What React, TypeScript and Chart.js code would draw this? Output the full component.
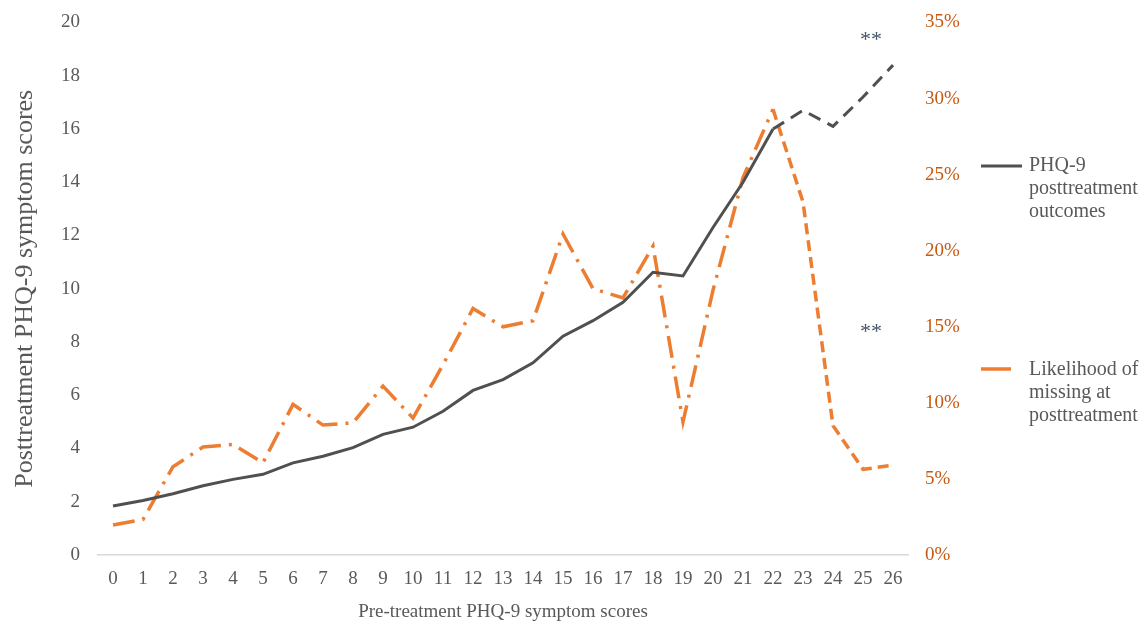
import React, { useEffect, useRef } from "react";
import { Chart, registerables } from "chart.js";

Chart.register(...registerables);

const categories = ["0", "1", "2", "3", "4", "5", "6", "7", "8", "9", "10", "11", "12", "13", "14", "15", "16", "17", "18", "19", "20", "21", "22", "23", "24", "25", "26"];
const phqOutcomes = [1.84, 2.05, 2.3, 2.6, 2.84, 3.03, 3.46, 3.71, 4.03, 4.53, 4.8, 5.4, 6.18, 6.59, 7.22, 8.22, 8.8, 9.49, 10.62, 10.48, 12.3, 14.0, 16.0, 16.7, 16.1, 17.2, 18.4];
const missingPct = [1.97, 2.34, 5.8, 7.1, 7.27, 6.06, 9.9, 8.54, 8.69, 11.1, 9.0, 12.5, 16.2, 15.0, 15.4, 21.1, 17.5, 16.9, 20.3, 8.75, 17.4, 24.8, 29.3, 23.2, 8.5, 5.63, 5.9];
const leftTicks = [0, 2, 4, 6, 8, 10, 12, 14, 16, 18, 20];
const rightTicks = [0, 5, 10, 15, 20, 25, 30, 35];
const solidUntilIndex = 22;
const annotationText = ["**", "**"];
const annotationIndex = [25, 25];
const annotationValue = [19.5, 8.5];
const legendOutcomes = ["PHQ-9", "posttreatment", "outcomes"];
const legendMissing = ["Likelihood of", "missing at", "posttreatment"];

const FONT = "'Liberation Serif', 'Times New Roman', serif";
const GRAY = "#505050";
const ORANGE = "#ED7D31";

export default function App() {
  const canvasRef = useRef<HTMLCanvasElement | null>(null);

  useEffect(() => {
    if (!canvasRef.current) return;
    const overlay = {
      id: "overlay",
      afterDraw(chart: any) {
        const ctx = chart.ctx;
        const xs = chart.scales.x;
        const yl = chart.scales.yLeft;
        ctx.save();
        // annotations
        ctx.fillStyle = "#44546A";
        ctx.font = `22px ${FONT}`;
        ctx.textAlign = "left";
        ctx.textBaseline = "middle";
        annotationText.forEach((t, i) => {
          ctx.fillText(t, xs.getPixelForValue(annotationIndex[i]) - 3, yl.getPixelForValue(annotationValue[i]) + 4);
        });
        // legend
        const lx = chart.chartArea.right + 73;
        ctx.font = `20px ${FONT}`;
        ctx.fillStyle = "#595959";
        ctx.lineWidth = 3;
        ctx.strokeStyle = GRAY;
        ctx.beginPath();
        ctx.moveTo(lx, 166);
        ctx.lineTo(lx + 41, 166);
        ctx.stroke();
        legendOutcomes.forEach((t, i) => ctx.fillText(t, lx + 48, 166 + i * 23));
        ctx.strokeStyle = ORANGE;
        ctx.lineWidth = 3.5;
        ctx.beginPath();
        ctx.moveTo(lx, 369);
        ctx.lineTo(lx + 30, 369);
        ctx.stroke();
        legendMissing.forEach((t, i) => ctx.fillText(t, lx + 48, 370 + i * 23));
        ctx.restore();
      },
    };

    const chart = new Chart(canvasRef.current, {
      type: "line",
      data: {
        labels: categories,
        datasets: [
          {
            label: "PHQ-9 posttreatment outcomes",
            data: phqOutcomes,
            yAxisID: "yLeft",
            borderColor: GRAY,
            borderWidth: 3,
            pointRadius: 0,
            tension: 0,
            segment: {
              borderDash: (c: any) => (c.p0DataIndex >= solidUntilIndex ? [13, 8] : undefined),
            },
          },
          {
            label: "Likelihood of missing at posttreatment",
            data: missingPct,
            yAxisID: "yRight",
            borderColor: ORANGE,
            borderWidth: 3.5,
            pointRadius: 0,
            tension: 0,
            segment: {
              borderDash: (c: any) => (c.p0DataIndex >= solidUntilIndex ? [11, 6] : [22, 8, 3, 8]),
            },
          },
        ],
      },
      options: {
        animation: false,
        responsive: true,
        maintainAspectRatio: false,
        layout: { padding: { top: 22.5, left: 0, right: 0, bottom: 0 } },
        plugins: { legend: { display: false }, tooltip: { enabled: false } },
        scales: {
          x: {
            offset: true,
            grid: { display: false, drawTicks: false, offset: true },
            border: { display: true, color: "#d9d9d9", width: 1.5 },
            ticks: { color: "#595959", font: { family: FONT, size: 19 }, padding: 13, maxRotation: 0, autoSkip: false },
            title: {
              display: true,
              text: "Pre-treatment PHQ-9 symptom scores",
              color: "#595959",
              font: { family: FONT, size: 19, lineHeight: 1 },
              padding: { top: 0, bottom: 0 },
            },
            afterFit: (s: any) => { s.height = 67; s.paddingLeft = 0; s.paddingRight = 0; },
          },
          yLeft: {
            position: "left",
            min: 0,
            max: 20,
            afterBuildTicks: (s: any) => { s.ticks = leftTicks.map((v) => ({ value: v })); },
            grid: { display: false, drawTicks: false },
            border: { display: false },
            ticks: { color: "#595959", font: { family: FONT, size: 19 }, padding: 18 },
            title: {
              display: true,
              text: "Posttreatment PHQ-9 symptom scores",
              color: "#595959",
              font: { family: FONT, size: 26 },
              padding: { top: 10, bottom: 0 },
            },
            afterFit: (s: any) => { s.width = 98; s.paddingTop = 0; s.paddingBottom = 0; },
          },
          yRight: {
            position: "right",
            min: 0,
            max: 35,
            afterBuildTicks: (s: any) => { s.ticks = rightTicks.map((v) => ({ value: v })); },
            grid: { display: false, drawTicks: false },
            border: { display: false },
            ticks: {
              color: "#C65911",
              font: { family: FONT, size: 19 },
              padding: 17,
              callback: (v: any) => `${v}%`,
            },
            afterFit: (s: any) => { s.width = 238; s.paddingTop = 0; s.paddingBottom = 0; },
          },
        },
      },
      plugins: [overlay],
    });
    return () => chart.destroy();
  }, []);

  return (
    <div style={{ position: "fixed", left: 0, top: 0, width: 1146, height: 622, background: "#fff" }}>
      <canvas ref={canvasRef} />
    </div>
  );
}
